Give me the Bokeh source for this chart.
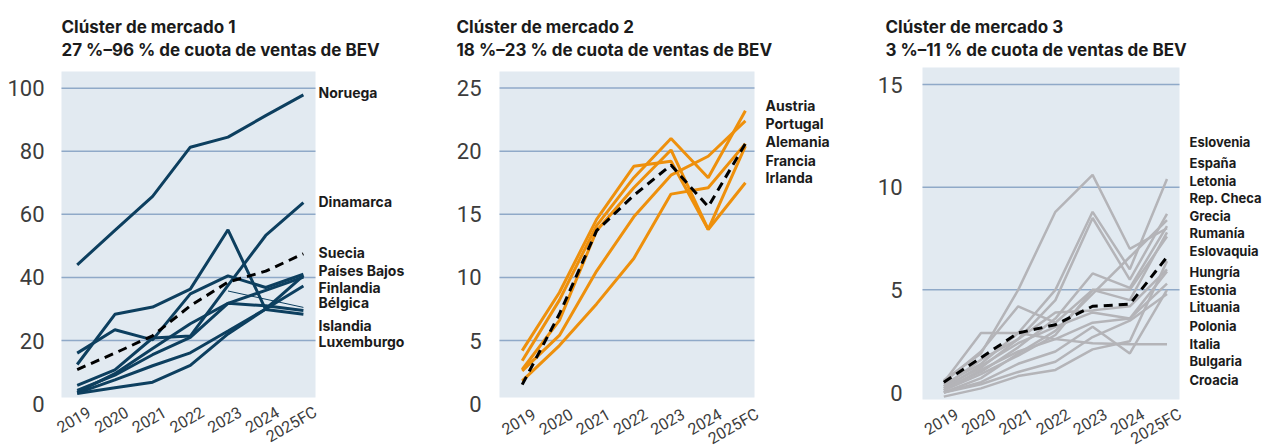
from bokeh.plotting import figure
from bokeh.layouts import row
from bokeh.models import BoxAnnotation, Range1d, Label, LabelSet, ColumnDataSource
from bokeh.core.properties import value
from bokeh.embed import file_html
from bokeh.resources import INLINE

years = ["2019", "2020", "2021", "2022", "2023", "2024", "2025FC"]

# --- Cluster 1: BEV share of new car sales (%) ---
c1_noruega = [44.0, 54.9, 65.7, 81.3, 84.5, 91.3, 97.9]
c1_dinamarca = [5.8, 10.7, 20.8, 21.4, 37.5, 53.3, 63.7]
c1_suecia = [16.0, 23.4, 20.2, 34.8, 40.5, 36.8, 41.0]
c1_paises_bajos = [3.6, 9.5, 17.5, 25.3, 31.8, 35.9, 40.1]
c1_finlandia = [3.3, 7.5, 12.0, 16.1, 23.0, 30.0, 40.6]
c1_belgica = [3.2, 5.0, 6.8, 12.1, 22.1, 30.0, 37.3]
c1_islandia = [12.4, 28.3, 30.6, 36.3, 55.1, 29.8, 28.3]
c1_luxemburgo = [4.2, 9.0, 15.5, 21.0, 31.8, 31.0, 29.5]
c1_media = [10.8, 16.0, 21.5, 31.0, 38.5, 42.0, 47.5]
# short thin segment drawn between 2023 and 2025FC
c1_tenue_years = ["2023", "2025FC"]
c1_tenue = [35.7, 30.5]
c1_names = ["Noruega", "Dinamarca", "Suecia", "Países Bajos", "Finlandia",
            "Bélgica", "Islandia", "Luxemburgo"]
c1_label_y = [98.7, 64.2, 48.0, 42.2, 36.7, 32.0, 24.8, 19.8]
c1_ticks = [0, 20, 40, 60, 80, 100]

# --- Cluster 2 ---
c2_austria = [4.2, 8.8, 14.6, 18.8, 19.2, 13.8, 17.5]
c2_portugal = [3.4, 8.2, 14.1, 17.9, 21.0, 17.9, 23.2]
c2_alemania = [2.7, 6.6, 13.7, 17.1, 20.1, 13.8, 20.4]
c2_francia = [2.6, 5.4, 10.5, 14.8, 18.1, 19.6, 22.4]
c2_irlanda = [1.8, 4.6, 7.9, 11.5, 16.6, 17.1, 20.6]
c2_media = [1.5, 7.1, 13.7, 16.5, 18.9, 15.6, 20.6]
c2_names = ["Austria", "Portugal", "Alemania", "Francia", "Irlanda"]
c2_label_y = [23.6, 22.2, 20.8, 19.3, 17.9]
c2_ticks = [0, 5, 10, 15, 20, 25]

# --- Cluster 3 ---
c3_eslovenia = [0.6, 1.9, 5.0, 8.8, 10.6, 7.0, 8.0]
c3_espana = [0.4, 1.4, 2.9, 5.0, 8.8, 6.0, 10.4]
c3_letonia = [0.3, 1.2, 2.6, 4.5, 8.5, 5.5, 8.7]
c3_rep_checa = [0.2, 1.0, 2.2, 3.6, 5.8, 5.1, 8.1]
c3_grecia = [0.0, 0.7, 1.9, 3.0, 4.8, 6.6, 8.4]
c3_rumania = [0.5, 2.0, 4.2, 3.4, 5.0, 5.0, 7.6]
c3_eslovaquia = [0.1, 0.9, 1.8, 2.8, 5.0, 4.5, 7.8]
c3_hungria = [0.3, 1.6, 2.6, 3.9, 4.0, 4.2, 6.0]
c3_estonia = [0.2, 1.3, 2.4, 3.2, 3.9, 3.6, 5.9]
c3_lituania = [0.1, 1.1, 2.0, 2.6, 3.4, 3.6, 5.3]
c3_polonia = [0.0, 0.5, 1.4, 2.0, 3.2, 1.9, 5.0]
c3_italia = [0.5, 2.9, 2.9, 2.6, 2.4, 2.35, 2.35]
c3_bulgaria = [0.0, 0.4, 1.0, 1.5, 2.7, 3.5, 4.8]
c3_croacia = [-0.2, 0.2, 0.8, 1.1, 2.1, 2.5, 6.4]
c3_media = [0.5, 1.7, 2.9, 3.3, 4.2, 4.3, 6.6]
c3_names = ["Eslovenia", "España", "Letonia", "Rep. Checa", "Grecia", "Rumanía",
            "Eslovaquia", "Hungría", "Estonia", "Lituania", "Polonia", "Italia",
            "Bulgaria", "Croacia"]
c3_label_y = [12.19, 11.17, 10.29, 9.46, 8.59, 7.76, 6.88, 5.86, 5.0, 4.15,
              3.25, 2.37, 1.51, 0.62]
c3_ticks = [0, 5, 10, 15]

NUM_FONT = "Roboto"
HEAD_FONT = "Inter"
BG = "#e2eaf1"
GRID = "#8fa9c8"
TEXT = "#1b1b1b"
TICK_TEXT = "#3c3c3c"
HEIGHT = 447


def panel(titles, series, avg, names, label_y, ticks, color, lw, geo, extra=None):
    """geo: pixel layout of one panel inside its own canvas."""
    W = geo["width"]
    x0, dx = geo["x0"], geo["dx"]      # pixel of first year, pixels per year
    y0, ppu = geo["y0"], geo["ppu"]    # pixel of value 0, pixels per unit

    def X(px):
        return (px - x0) / dx

    def Y(py):
        return (y0 - py) / ppu

    p = figure(width=W, height=HEIGHT, output_backend="svg", toolbar_location=None,
               x_range=Range1d(X(0), X(W)), y_range=Range1d(Y(HEIGHT), Y(0)),
               x_axis_location=None, y_axis_location=None, title=None,
               min_border=0, min_border_left=0, min_border_right=0,
               min_border_top=0, min_border_bottom=0)
    p.background_fill_color = "white"
    p.border_fill_color = "white"
    p.outline_line_color = None
    p.grid.visible = False

    bl, br, bt, bb = geo["box"]
    p.add_layout(BoxAnnotation(left=X(bl), right=X(br), top=Y(bt), bottom=Y(bb),
                               fill_color=BG, fill_alpha=1, line_color=None,
                               level="underlay"))

    # horizontal gridlines across the shaded area
    gt = [t for t in ticks if t > 0]
    p.segment(x0=[X(bl)] * len(gt), x1=[X(br)] * len(gt), y0=gt, y1=gt,
              line_color=GRID, line_width=1.5)

    xs = list(range(len(years)))
    for ys in series:
        p.line(xs, ys, line_color=color, line_width=lw)
    if extra is not None:
        ex_years, ex_vals = extra
        p.line([years.index(y) for y in ex_years], ex_vals,
               line_color=color, line_width=1)
    p.line(xs, avg, line_color="black", line_width=3, line_dash="9 6")

    # value labels on the left
    p.add_layout(LabelSet(x="x", y="y", text="t",
                          source=ColumnDataSource(dict(
                              x=[X(geo["ytick_right"])] * len(ticks), y=ticks,
                              t=[str(t) for t in ticks])),
                          text_align="right", text_baseline="middle",
                          text_font=value(NUM_FONT), text_font_size="22px",
                          text_color=TICK_TEXT))

    # rotated year labels
    p.add_layout(LabelSet(x="x", y="y", text="t",
                          source=ColumnDataSource(dict(
                              x=xs, y=[Y(geo["xlabel_y"])] * len(xs), t=years)),
                          angle=0.52, text_align="right", text_baseline="middle",
                          x_offset=geo["xlabel_dx"], text_font=value(NUM_FONT),
                          text_font_size="16px", text_color=TICK_TEXT))

    # country names
    p.add_layout(LabelSet(x="x", y="y", text="t",
                          source=ColumnDataSource(dict(
                              x=[X(geo["names_x"])] * len(names), y=label_y,
                              t=names)),
                          text_align="left", text_baseline="middle",
                          text_font=value(HEAD_FONT), text_font_style="bold",
                          text_font_size=geo["names_size"], text_color=TEXT))

    # two-line heading
    for txt, base in zip(titles, (26, 49.3)):
        p.add_layout(Label(x=X(geo["title_x"]), y=Y(base), text=txt,
                           text_font=HEAD_FONT, text_font_style="bold",
                           text_font_size="17px", text_color=TEXT,
                           text_align="left", text_baseline="alphabetic"))
    return p


p1 = panel(("Clúster de mercado 1", "27 %–96 % de cuota de ventas de BEV"),
           [c1_noruega, c1_dinamarca, c1_suecia, c1_paises_bajos, c1_finlandia,
            c1_belgica, c1_islandia, c1_luxemburgo],
           c1_media, c1_names, c1_label_y, c1_ticks, "#0d3f5f", 3,
           dict(width=420, x0=76.7, dx=37.7, y0=403.1, ppu=3.154,
                box=(61, 315, 71, 397), ytick_right=44, xlabel_y=410,
                xlabel_dx=12, names_x=318, names_size="14px", title_x=61),
           extra=(c1_tenue_years, c1_tenue))

p2 = panel(("Clúster de mercado 2", "18 %–23 % de cuota de ventas de BEV"),
           [c2_austria, c2_portugal, c2_alemania, c2_francia, c2_irlanda],
           c2_media, c2_names, c2_label_y, c2_ticks, "#ee900c", 3,
           dict(width=420, x0=101.7, dx=37.2, y0=403.1, ppu=12.62,
                box=(79, 334, 71, 397), ytick_right=61, xlabel_y=412,
                xlabel_dx=12, names_x=345, names_size="14px", title_x=36))

p3 = panel(("Clúster de mercado 3", "3 %–11 % de cuota de ventas de BEV"),
           [c3_eslovenia, c3_espana, c3_letonia, c3_rep_checa, c3_grecia,
            c3_rumania, c3_eslovaquia, c3_hungria, c3_estonia, c3_lituania,
            c3_polonia, c3_italia, c3_bulgaria, c3_croacia],
           c3_media, c3_names, c3_label_y, c3_ticks, "#b4b4b8", 2.5,
           dict(width=426, x0=103.3, dx=37.2, y0=392, ppu=20.53,
                box=(82, 339, 67, 399), ytick_right=62, xlabel_y=412,
                xlabel_dx=13, names_x=349, names_size="13px", title_x=45))

layout = row(p1, p2, p3, spacing=0)
open("out.html", "w").write(file_html(layout, INLINE))
